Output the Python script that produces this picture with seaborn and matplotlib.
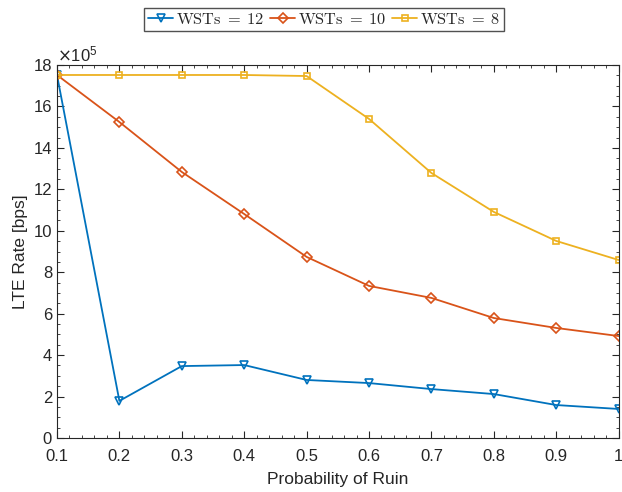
import numpy as np
import pandas as pd
import matplotlib
matplotlib.use('Agg')
import matplotlib.pyplot as plt
import seaborn as sns
from matplotlib.ticker import MultipleLocator, FuncFormatter

# Data (units of 1e5 bps)
ruin_prob = [0.1, 0.2, 0.3, 0.4, 0.5, 0.6, 0.7, 0.8, 0.9, 1.0]
rate_wst12 = [17.52, 1.79, 3.47, 3.52, 2.80, 2.65, 2.36, 2.12, 1.59, 1.40]
rate_wst10 = [17.52, 15.25, 12.84, 10.81, 8.74, 7.34, 6.76, 5.79, 5.31, 4.92]
rate_wst8 = [17.52, 17.52, 17.52, 17.52, 17.47, 15.40, 12.79, 10.91, 9.51, 8.59]
series_labels = [r'$\mathrm{WSTs}\;=\;12$', r'$\mathrm{WSTs}\;=\;10$', r'$\mathrm{WSTs}\;=\;8$']
series_colors = ['#0072BD', '#D95319', '#EDB120']
series_markers = ['v', 'D', 's']

sns.set_style('ticks')
plt.rcParams['font.family'] = ['Liberation Sans', 'DejaVu Sans']
plt.rcParams['mathtext.fontset'] = 'cm'

df = pd.DataFrame({
    'p': ruin_prob * 3,
    'rate': np.array(rate_wst12 + rate_wst10 + rate_wst8) * 1e5,
    'series': sum([[lab] * len(ruin_prob) for lab in series_labels], []),
})

fig = plt.figure(figsize=(6.22, 4.92), dpi=100)
ax = fig.add_axes([0.0916, 0.1098, 0.903, 0.758])

sns.lineplot(
    data=df, x='p', y='rate', hue='series', style='series',
    hue_order=series_labels, style_order=series_labels,
    palette=series_colors, markers=series_markers, dashes=False,
    markersize=6, linewidth=1.3, ax=ax,
)


def hollow(lines):
    # hollow markers with coloured edges, MATLAB style
    for i, (line, c) in enumerate(zip(lines, series_colors)):
        line.set_markeredgecolor(c)
        line.set_markerfacecolor('none')
        line.set_markeredgewidth(1.2)
        line.set_markersize(6 if i == 0 else 5)


hollow(ax.lines)

ax.set_xlim(0.1, 1.0)
ax.set_ylim(0, 18e5)
ax.xaxis.set_major_locator(MultipleLocator(0.1))
ax.xaxis.set_minor_locator(MultipleLocator(0.02))
ax.xaxis.set_major_formatter(FuncFormatter(lambda v, _: f'{round(v, 1):g}'))
ax.yaxis.set_major_locator(MultipleLocator(2e5))
ax.yaxis.set_minor_locator(MultipleLocator(0.5e5))
ax.yaxis.set_major_formatter(FuncFormatter(lambda v, _: f'{v / 1e5:g}'))
ax.tick_params(which='both', direction='in', top=True, right=True, labelsize=12, colors='#262626')
ax.tick_params(which='major', length=5)
ax.tick_params(which='minor', length=2.5)
ax.tick_params(axis='x', which='major', pad=8)
for s in ax.spines.values():
    s.set_linewidth(0.8)
    s.set_color('#262626')
ax.text(0.0, 1.003, r'$\times\mathregular{10^5}$', transform=ax.transAxes, fontsize=12,
        math_fontfamily='dejavusans', ha='left', va='bottom', color='#262626')

ax.set_xlabel('Probability of Ruin', fontsize=12.5, color='#262626', labelpad=6)
ax.set_ylabel('LTE Rate [bps]', fontsize=12.5, color='#262626')

handles, labels = ax.get_legend_handles_labels()
leg = ax.legend(handles, labels, loc='center', bbox_to_anchor=(0.476, 1.123), ncol=3,
                frameon=True, fancybox=False, edgecolor='#262626', fontsize=11.8,
                handlelength=1.5, handletextpad=0.2, columnspacing=0.35, borderpad=0.25,
                borderaxespad=0.2)
hollow(leg.get_lines())

fig.savefig('out.png', dpi=100)
